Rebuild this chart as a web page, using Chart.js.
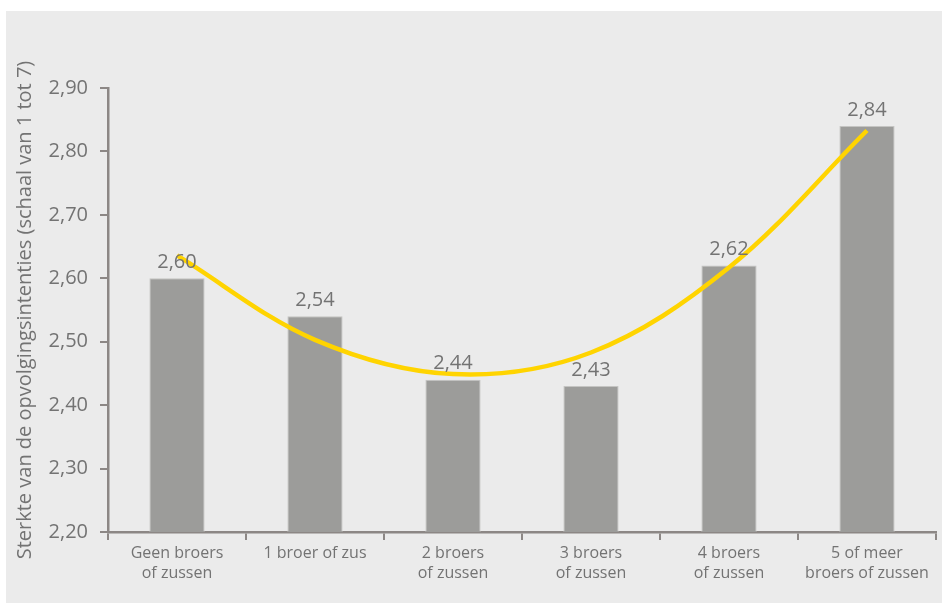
<!DOCTYPE html>
<html>
<head>
<meta charset="utf-8">
<script src="https://cdn.jsdelivr.net/npm/chart.js@4/dist/chart.umd.min.js"></script>
<style>
  html, body { margin: 0; padding: 0; background: #ffffff; }
  #panel { position: absolute; left: 6px; top: 11px; width: 936px; height: 592px; background: #ebebeb; }
  #wrap { position: absolute; left: 0; top: 0; width: 942px; height: 605px; }
</style>
</head>
<body>
<div id="panel"></div>
<div id="wrap"><canvas id="chart" width="942" height="605"></canvas></div>
<script>
"use strict";

// Categories: number of brothers and sisters
var categories = [
	["Geen broers", "of zussen"],
	"1 broer of zus",
	["2 broers", "of zussen"],
	["3 broers", "of zussen"],
	["4 broers", "of zussen"],
	["5 of meer", "broers of zussen"]
];

// Mean strength of succession intentions (scale 1 to 7)
var strength = [2.60, 2.54, 2.44, 2.43, 2.62, 2.84];

// Trend curve, read at each category
var trend = [2.636, 2.503, 2.449, 2.483, 2.617, 2.833];

var yTitle = "Sterkte van de opvolgingsintenties (schaal van 1 tot 7)";
var yMin = 2.2, yMax = 2.9, yStep = 0.1;

var FONT = "'Open Sans', 'DejaVu Sans', sans-serif";
var TEXT = "#737373";
var AXIS = "#8c8785";

function fmt(v) {
	return Number(v).toFixed(2).replace(".", ",");
}

// value labels above each bar
var barLabels = {
	id: "barLabels",
	afterDatasetsDraw: function (chart) {
		var meta = chart.getDatasetMeta(1), ctx = chart.ctx;
		ctx.save();
		ctx.font = "20px " + FONT;
		ctx.fillStyle = TEXT;
		ctx.textAlign = "center";
		ctx.textBaseline = "bottom";
		meta.data.forEach(function (bar, i) {
			ctx.fillText(fmt(strength[i]), bar.x, bar.y - 6);
		});
		ctx.restore();
	}
};

new Chart(document.getElementById("chart"), {
	data: {
		labels: categories,
		datasets: [
			{
				type: "line",
				data: trend,
				borderColor: "#ffd400",
				borderWidth: 4.5,
				pointRadius: 0,
				tension: 0.35,
				fill: false
			},
			{
				type: "bar",
				data: strength,
				backgroundColor: "#9c9c9a",
				borderColor: "#c4c4c2",
				borderWidth: 1,
				barPercentage: 0.40,
				categoryPercentage: 1
			}
		]
	},
	options: {
		responsive: false,
		animation: false,
		events: [],
		layout: { padding: { top: 88, right: 6, bottom: 0, left: 0 } },
		plugins: {
			legend: { display: false },
			tooltip: { enabled: false }
		},
		scales: {
			x: {
				afterFit: function (scale) { scale.height = 73; },
				border: { display: true, color: AXIS, width: 2.5 },
				grid: {
					offset: true,
					drawOnChartArea: false,
					drawTicks: true,
					tickLength: 8,
					color: AXIS,
					lineWidth: 2
				},
				ticks: {
					color: TEXT,
					padding: 3,
					maxRotation: 0,
					font: { family: FONT, size: 16, lineHeight: 1.25 }
				}
			},
			y: {
				min: yMin,
				max: yMax,
				afterFit: function (scale) { scale.width = 108; },
				border: { display: true, color: AXIS, width: 2.5 },
				grid: {
					drawOnChartArea: false,
					drawTicks: true,
					tickLength: 8,
					color: AXIS,
					lineWidth: 2
				},
				ticks: {
					stepSize: yStep,
					color: TEXT,
					padding: 12,
					font: { family: FONT, size: 20 },
					callback: function (v) { return fmt(v); }
				},
				title: {
					display: true,
					text: yTitle,
					color: TEXT,
					padding: { top: 13, bottom: 0 },
					font: { family: FONT, size: 20, lineHeight: 1.2 }
				}
			}
		}
	},
	plugins: [barLabels]
});
</script>
</body>
</html>
